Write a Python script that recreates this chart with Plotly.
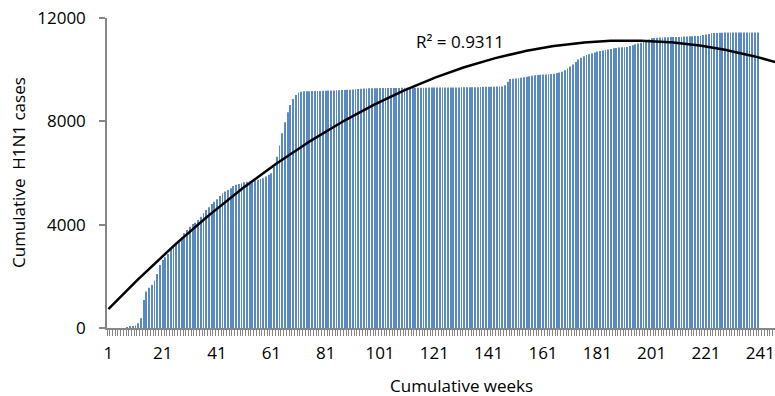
import numpy as np
import plotly.graph_objects as go

weeks = list(range(1, 241))
cases = [
    0, 0, 0, 0, 0, 0, 0, 25, 40, 60,
    100, 180, 375, 1080, 1410, 1560, 1665, 1830, 2090, 2440,
    2630, 2735, 2865, 3045, 3150, 3250, 3380, 3510, 3665, 3795,
    3920, 4025, 4075, 4180, 4310, 4440, 4570, 4670, 4800, 4890,
    4980, 5110, 5215, 5280, 5340, 5410, 5500, 5550, 5575, 5600,
    5640, 5660, 5680, 5690, 5710, 5740, 5770, 5800, 5860, 5930,
    5990, 6245, 6630, 7060, 7535, 7960, 8350, 8630, 8865, 9020,
    9120, 9150, 9160, 9160, 9165, 9170, 9170, 9175, 9175, 9180,
    9185, 9190, 9190, 9195, 9200, 9205, 9210, 9215, 9220, 9225,
    9230, 9240, 9250, 9260, 9270, 9275, 9280, 9280, 9285, 9285,
    9290, 9290, 9290, 9292, 9292, 9294, 9294, 9295, 9296, 9296,
    9297, 9298, 9298, 9299, 9300, 9300, 9302, 9304, 9305, 9306,
    9308, 9308, 9309, 9310, 9310, 9311, 9312, 9312, 9313, 9314,
    9315, 9315, 9316, 9317, 9318, 9320, 9322, 9330, 9335, 9338,
    9340, 9342, 9343, 9344, 9345, 9350, 9400, 9535, 9640, 9650,
    9660, 9665, 9690, 9710, 9730, 9745, 9760, 9780, 9795, 9800,
    9810, 9815, 9820, 9830, 9845, 9870, 9895, 9920, 9980, 10050,
    10120, 10200, 10300, 10390, 10465, 10520, 10570, 10600, 10630, 10665,
    10700, 10720, 10740, 10760, 10780, 10800, 10825, 10840, 10855, 10865,
    10870, 10880, 10915, 10950, 10980, 11010, 11045, 11080, 11110, 11170,
    11215, 11230, 11240, 11245, 11250, 11255, 11258, 11260, 11262, 11265,
    11267, 11270, 11280, 11285, 11290, 11295, 11300, 11305, 11310, 11340,
    11365, 11385, 11405, 11415, 11420, 11425, 11430, 11435, 11435, 11436,
    11437, 11438, 11438, 11439, 11439, 11440, 11440, 11440, 11440, 11440,
]
tick_labels = ["1", "21", "41", "61", "81", "101", "121", "141", "161", "181", "201", "221", "241"]
r2_text = "R² = 0.9311"

# order-2 polynomial trendline fitted to the data
coef = np.polyfit(weeks, cases, 2)
trend_x = np.linspace(1, 247, 400)
trend_y = np.polyval(coef, trend_x)

FONT = "Open Sans"
GRAY = "#868686"

fig = go.Figure()
fig.add_trace(go.Bar(x=weeks, y=cases, marker=dict(color="#5A8AC4", line=dict(width=0)),
                     showlegend=False))
fig.add_trace(go.Scatter(x=trend_x, y=trend_y, mode="lines",
                         line=dict(color="black", width=2.5), showlegend=False))

fig.update_layout(
    width=775, height=396,
    margin=dict(l=107, r=0, t=18, b=68),
    paper_bgcolor="white", plot_bgcolor="white",
    bargap=0.68,
    font=dict(family=FONT, size=17, color="black"),
    xaxis=dict(
        range=[0.5, 246.4], automargin=False,
        tickmode="array", tickvals=[int(t) for t in tick_labels], ticktext=tick_labels,
        ticks="", showgrid=False, zeroline=False,
        showline=True, linecolor=GRAY, linewidth=2,
        ticklabelstandoff=9,
        minor=dict(tickmode="linear", tick0=0.5, dtick=1, ticks="outside",
                   ticklen=6, tickcolor=GRAY, tickwidth=1, showgrid=False),
    ),
    yaxis=dict(
        range=[0, 12000], tickvals=[0, 4000, 8000, 12000], tickformat="d",
        automargin=False,
        ticks="outside", ticklen=6, tickcolor=GRAY, tickwidth=1.5,
        showgrid=False, zeroline=False,
        showline=True, linecolor=GRAY, linewidth=1.5,
        ticklabelstandoff=10,
    ),
    annotations=[
        dict(text="Cumulative weeks", xref="paper", yref="paper",
             x=(461 - 107) / 668, y=-(385 - 328) / 310, showarrow=False,
             xanchor="center", yanchor="middle", font=dict(size=17)),
        dict(text="Cumulative  H1N1 cases", xref="paper", yref="paper",
             x=(18 - 107) / 668, y=0.5, showarrow=False, textangle=-90,
             xanchor="center", yanchor="middle", font=dict(size=17)),
        dict(text=r2_text, xref="paper", yref="paper",
             x=(460 - 107) / 668, y=(328 - 42) / 310, showarrow=False,
             xanchor="center", yanchor="middle", font=dict(size=17)),
    ],
)

fig.write_html("out.html", config={"displayModeBar": False},
               post_script="document.body.style.margin='0';document.body.style.overflow='hidden';")
